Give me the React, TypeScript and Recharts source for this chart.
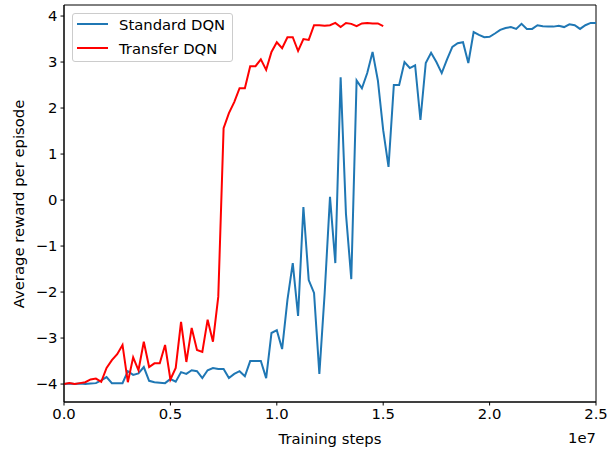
import React from 'react'
import {
  LineChart,
  Line,
  XAxis,
  YAxis,
  Legend,
  ReferenceArea
} from 'recharts'

// readings every 250k steps
const STEP = 250000

const standardDqn = [
  -4.0, -3.99, -4.0, -3.99, -4.0, -3.99, -3.98, -3.92, -3.85, -3.98,
  -3.98, -3.98, -3.72, -3.8, -3.77, -3.63, -3.93, -3.96, -3.97, -3.98,
  -3.89, -3.95, -3.74, -3.78, -3.7, -3.72, -3.87, -3.7, -3.65, -3.67,
  -3.67, -3.87, -3.78, -3.72, -3.83, -3.5, -3.5, -3.5, -3.87, -2.89,
  -2.83, -3.24, -2.17, -1.37, -2.52, -0.15, -1.74, -2.02, -3.78, -2.02,
  0.07, -1.37, 2.67, -0.3, -1.72, 2.6, 2.43, 2.76, 3.22, 2.6,
  1.52, 0.72, 2.5, 2.5, 3.0, 2.87, 2.93, 1.74, 2.98, 3.2,
  3.0, 2.76, 3.06, 3.33, 3.41, 3.43, 2.98, 3.65, 3.59, 3.54,
  3.55, 3.62, 3.7, 3.74, 3.76, 3.72, 3.83, 3.72, 3.72, 3.8,
  3.78, 3.77, 3.77, 3.79, 3.76, 3.82, 3.8, 3.72, 3.8, 3.85,
  3.85
]

const transferDqn = [
  -4.0, -3.98, -4.0, -3.98, -3.96, -3.9, -3.88, -3.95, -3.65, -3.48,
  -3.35, -3.15, -3.96, -3.42, -3.7, -3.08, -3.63, -3.55, -3.55, -3.15,
  -3.9, -3.65, -2.65, -3.52, -2.78, -3.26, -3.3, -2.6, -3.08, -2.1,
  1.56, 1.89, 2.13, 2.43, 2.43, 2.91, 2.91, 3.06, 2.83, 3.22,
  3.43, 3.3, 3.54, 3.54, 3.24, 3.5, 3.48, 3.8, 3.8, 3.79,
  3.8, 3.85, 3.76, 3.85, 3.83, 3.78, 3.84, 3.85, 3.84, 3.84,
  3.78
]

const xTicks = [0, 5e6, 1e7, 1.5e7, 2e7, 2.5e7]
const yTicks = [-4, -3, -2, -1, 0, 1, 2, 3, 4]

const FONT = 'DejaVu Sans, sans-serif'
const FS = 14.8
const BLUE = '#1f77b4'
const RED = '#ff0000'
const Y_MIN = -4.39
const Y_MAX = 4.24
const X_MAX = 2.5e7

const data = standardDqn.map((v, i) => ({
  step: i * STEP,
  standard: v,
  transfer: i < transferDqn.length ? transferDqn[i] : undefined
}))

const fmtMinus = (v: number) => String(v).replace('-', '\u2212')

const legendItems = [
  { name: 'Standard DQN', color: BLUE },
  { name: 'Transfer DQN', color: RED }
]

const LegendBox = () => (
  <div
    style={{
      position: 'relative',
      width: 161,
      height: 49,
      boxSizing: 'border-box',
      background: 'rgba(255,255,255,0.8)',
      border: '1px solid #cccccc',
      borderRadius: 3,
      fontFamily: FONT,
      fontSize: FS,
      color: '#000'
    }}
  >
    {legendItems.map((it, i) => (
      <div
        key={it.name}
        style={{
          position: 'absolute',
          left: 4,
          top: 10 + i * 24 - 9,
          height: 18,
          display: 'flex',
          alignItems: 'center'
        }}
      >
        <span style={{ display: 'inline-block', width: 31, height: 2, background: it.color }} />
        <span style={{ marginLeft: 11, whiteSpace: 'nowrap' }}>{it.name}</span>
      </div>
    ))}
  </div>
)

const App = () => {
  return (
    <div style={{ position: 'fixed', left: 0, top: 0, width: 608, height: 449, background: '#fff' }}>
      <LineChart
        width={608}
        height={449}
        data={data}
        margin={{ top: 5, right: 12, bottom: 0, left: 0 }}
      >
        <XAxis
          dataKey="step"
          type="number"
          domain={[0, X_MAX]}
          ticks={xTicks}
          tickFormatter={(v: number) => (v / 1e7).toFixed(1)}
          height={47}
          stroke="#000"
          tickSize={3.5}
          tickMargin={3}
          tick={{ fill: '#000', fontSize: FS, fontFamily: FONT }}
          allowDataOverflow
          label={() => (
            <g>
              <text x={330} y={438} textAnchor="middle" dominantBaseline="central" fontSize={FS} fontFamily={FONT} fill="#000">
                Training steps
              </text>
              <text x={596} y={437} textAnchor="end" dominantBaseline="central" fontSize={FS} fontFamily={FONT} fill="#000">
                1e7
              </text>
            </g>
          )}
        />
        <YAxis
          type="number"
          domain={[Y_MIN, Y_MAX]}
          ticks={yTicks}
          tickFormatter={fmtMinus}
          width={64}
          stroke="#000"
          tickSize={3.5}
          tickMargin={3}
          tick={{ fill: '#000', fontSize: FS, fontFamily: FONT }}
          allowDataOverflow
          label={() => (
            <text
              x={18}
              y={204}
              transform="rotate(-90 18 204)"
              textAnchor="middle"
              dominantBaseline="central"
              fontSize={FS}
              fontFamily={FONT}
              fill="#000"
            >
              Average reward per episode
            </text>
          )}
        />
        <ReferenceArea
          x1={0}
          x2={X_MAX}
          y1={Y_MIN}
          y2={Y_MAX}
          fill="none"
          stroke="#000"
          strokeWidth={1}
        />
        <Line
          dataKey="standard"
          stroke={BLUE}
          strokeWidth={2}
          dot={false}
          isAnimationActive={false}
        />
        <Line
          dataKey="transfer"
          stroke={RED}
          strokeWidth={2}
          dot={false}
          isAnimationActive={false}
        />
        <Legend
          layout="vertical"
          align="center"
          verticalAlign="middle"
          wrapperStyle={{ top: 13, left: 72, width: 'auto' }}
          content={() => <LegendBox />}
        />
      </LineChart>
    </div>
  )
}

export default App
